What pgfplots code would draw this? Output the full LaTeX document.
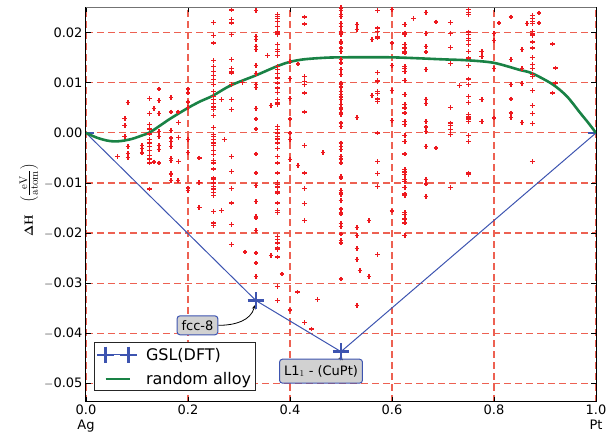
\documentclass[border=0pt]{standalone}
\usepackage[no-math]{fontspec}
\setmainfont{DejaVu Sans}
\usepackage{pgfplots}
\pgfplotsset{compat=1.18}
\definecolor{gridred}{rgb}{0.93,0.38,0.32}
\definecolor{ptred}{rgb}{0.93,0.1,0.12}
\definecolor{hullblue}{rgb}{0.24,0.33,0.69}
\definecolor{alloygreen}{rgb}{0.1,0.51,0.27}
\definecolor{boxgray}{rgb}{0.82,0.82,0.82}
\newcommand\tk{\fontsize{13bp}{15bp}\selectfont}
\newcommand\mn{$-$}
\pgfplotsset{
  hullleg/.style={legend image code/.code={\draw[##1, mark indices={1,2}] plot coordinates {(0bp,0bp) (23bp,0bp)};}},
  lineleg/.style={legend image code/.code={\draw[##1] (0bp,0bp) -- (24bp,0bp);}},
}
\begin{document}
\begin{tikzpicture}
\begin{axis}[
  scale only axis, width=510bp, height=394.4bp,
  xmin=0, xmax=1, ymin=-53.7, ymax=25.1,
  xtick={0,0.2,0.4,0.6,0.8,1},
  xticklabels={{0.0\\Ag},{0.2},{0.4},{0.6},{0.8},{1.0\\Pt}},
  xticklabel style={align=center, font=\tk},
  ytick={-50,-40,-30,-20,-10,0,10,20},
  yticklabels={\mn0.05,\mn0.04,\mn0.03,\mn0.02,\mn0.01,0.00,0.01,0.02},
  yticklabel style={font=\tk},
  tick align=inside, major tick length=5bp,
  tick style={black, line width=0.8bp},
  grid=major,
  major grid style={draw=gridred, dash pattern=on 7bp off 4bp, line width=1.1bp},
  axis line style={black, line width=1bp},
  ylabel={$\mathbf{\Delta H}$\quad{\fontsize{15bp}{17bp}\selectfont$\left(\frac{\mathrm{eV}}{\mathrm{atom}}\right)$}},
  ylabel style={at={(axis description cs:-0.1118,0.511)}, anchor=center, font=\fontsize{12.5bp}{14bp}\selectfont},
  legend style={at={(0.0157,0.151)}, anchor=north west, draw=black!85, line width=0.8bp,
    fill=white, font=\fontsize{16bp}{19bp}\selectfont, inner xsep=3bp, inner ysep=4bp,
    nodes={inner sep=1bp}, row sep=8bp, column sep=8bp},
  legend cell align=left,
]
\addplot[only marks, mark=+, mark size=2.3bp, color=ptred, mark options={draw=ptred, line width=1.5bp}, forget plot] coordinates {
(0.062,-4.7)
(0.076,2.9) (0.076,1.5) (0.076,-0.7)
(0.082,6.1) (0.082,-2.7) (0.082,-4.1) (0.082,-4.9)
(0.110,-2.5) (0.110,-3.1) (0.110,-4.0)
(0.125,6.9) (0.125,3.9) (0.125,1.7) (0.125,0.8) (0.125,-0.2) (0.125,-1.3) (0.125,-2.0) (0.125,-2.7) (0.125,-3.5) (0.125,-4.5) (0.125,-5.2) (0.125,-6.0) (0.125,-11.2)
(0.133,4.9) (0.133,-5.8)
(0.143,8.8) (0.143,6.5) (0.143,3.9) (0.143,0.3) (0.143,-0.7) (0.143,-2.5) (0.143,-3.3) (0.143,-6.0)
(0.167,7.1) (0.167,4.2) (0.167,0.5) (0.167,-1.0) (0.167,-1.7) (0.167,-2.7) (0.167,-5.1) (0.167,-5.5) (0.167,-8.1) (0.167,-8.3) (0.167,-9.5)
(0.180,4.2) (0.180,-9.5) (0.181,2.1) (0.181,-0.9) (0.181,-5.7)
(0.2,8.8) (0.2,8.0) (0.2,6.2) (0.2,5.1) (0.2,-1.3) (0.2,-3.9) (0.2,-11.0) (0.2,-11.5)
(0.222,-5.0) (0.222,-9.9) (0.222,-14.9)
(0.25,22.1) (0.25,19.5) (0.25,18.0) (0.25,14.5) (0.25,13.3) (0.25,12.3) (0.25,11.5) (0.25,10.7) (0.25,9.7) (0.25,8.3) (0.25,7.3) (0.25,6.7) (0.25,5.9) (0.25,5.2) (0.25,4.7) (0.25,3.5) (0.25,1.1) (0.25,-0.3) (0.25,-0.7) (0.25,-1.3) (0.25,-2.0) (0.25,-2.5) (0.25,-3.5) (0.25,-4.3) (0.25,-5.5) (0.25,-6.0) (0.25,-7.2) (0.25,-9.0) (0.25,-9.3) (0.25,-10.0) (0.25,-10.7) (0.25,-11.2) (0.25,-11.9) (0.25,-12.5) (0.25,-15.7) (0.25,-18.0) (0.25,-18.5)
(0.266,6.7) (0.272,-1.3) (0.266,-15.5)
(0.2857,24.6) (0.2857,22.7) (0.2857,22.0) (0.2857,19.7) (0.2857,14.7) (0.2857,12.9) (0.2857,12.3) (0.2857,12.0) (0.2857,9.7) (0.2857,6.7) (0.2857,4.7) (0.2857,-4.7) (0.2857,-7.7) (0.2857,-11.1) (0.2857,-14.0) (0.2857,-18.3) (0.2857,-22.3)
(0.307,10.1) (0.312,-23.8)
(0.3333,24.5) (0.3333,19.3) (0.3333,18.7) (0.3333,17.3) (0.3333,16.7) (0.3333,13.5) (0.3333,11.9) (0.3333,9.7) (0.3333,9.1) (0.3333,4.9) (0.3333,2.8) (0.3333,0.8) (0.3333,-4.2) (0.3333,-8.0) (0.3333,-10.5) (0.3333,-13.7) (0.3333,-16.7) (0.3333,-17.0) (0.3333,-19.5) (0.3333,-24.0) (0.3333,-26.0) (0.3333,-28.7)
(0.356,15.5) (0.363,5.5) (0.363,-24.5)
(0.375,23.7) (0.375,23.3) (0.375,22.9) (0.375,22.3) (0.375,21.3) (0.375,20.3) (0.375,20.0) (0.375,19.7) (0.375,17.7) (0.375,16.7) (0.375,16.3) (0.375,15.5) (0.375,13.3) (0.375,12.7) (0.375,11.9) (0.375,11.0) (0.375,10.0) (0.375,9.0) (0.375,8.1) (0.375,6.7) (0.375,6.0) (0.375,5.7) (0.375,1.3) (0.375,0.7) (0.375,0.0) (0.375,-0.7) (0.375,-1.2) (0.375,-2.0) (0.375,-3.1) (0.375,-4.7) (0.375,-6.0) (0.375,-8.0) (0.375,-9.9) (0.375,-10.3) (0.375,-10.8) (0.375,-11.7) (0.375,-12.0) (0.375,-14.0) (0.375,-15.5) (0.375,-15.9) (0.375,-20.7) (0.375,-21.3) (0.375,-22.0) (0.375,-23.0) (0.375,-23.3) (0.375,-24.8) (0.375,-30.7) (0.375,-33.5)
(0.384,-28.2)
(0.4,14.3) (0.4,10.9) (0.4,6.9) (0.4,2.8) (0.4,0.0) (0.4,-1.3) (0.4,-5.3) (0.4,-35.4)
(0.415,-31.8) (0.416,13.8) (0.416,-6.5)
(0.4286,23.2) (0.4286,21.8) (0.4286,11.3) (0.4286,10.3) (0.4286,9.7) (0.4286,8.0) (0.4286,4.2) (0.4286,-2.5) (0.4286,-8.0) (0.4286,-11.1) (0.4286,-14.1) (0.4286,-17.5) (0.4286,-37.9)
(0.442,-39.2) (0.454,-33.3) (0.465,-3.9)
(0.5,25.0) (0.5,24.5) (0.5,23.7) (0.5,23.3) (0.5,21.9) (0.5,21.3) (0.5,20.3) (0.5,20.0) (0.5,19.7) (0.5,18.3) (0.5,18.0) (0.5,17.0) (0.5,16.3) (0.5,14.7) (0.5,14.0) (0.5,12.7) (0.5,11.7) (0.5,10.0) (0.5,9.7) (0.5,9.2) (0.5,8.3) (0.5,7.7) (0.5,7.2) (0.5,6.7) (0.5,5.7) (0.5,5.0) (0.5,4.7) (0.5,4.0) (0.5,3.7) (0.5,2.0) (0.5,1.3) (0.5,-2.0) (0.5,-2.7) (0.5,-3.3) (0.5,-4.7) (0.5,-5.2) (0.5,-6.0) (0.5,-8.7) (0.5,-9.0) (0.5,-11.5) (0.5,-12.0) (0.5,-12.3) (0.5,-13.5) (0.5,-15.2) (0.5,-15.9) (0.5,-16.2) (0.5,-18.1) (0.5,-18.7) (0.5,-20.2) (0.5,-21.5) (0.5,-22.0) (0.5,-29.2)
(0.531,21.7) (0.531,20.7) (0.531,3.1) (0.531,-18.9) (0.531,-20.5) (0.531,-23.1) (0.531,-25.3) (0.531,-34.5)
(0.537,-27.5) (0.555,-17.5) (0.555,-28.7) (0.561,18.7) (0.561,7.5)
(0.5714,24.5) (0.5714,21.0) (0.5714,20.3) (0.5714,19.3) (0.5714,19.0) (0.5714,12.1) (0.5714,10.5) (0.5714,10.3) (0.5714,8.3) (0.5714,7.9) (0.5714,6.8) (0.5714,6.3) (0.5714,0.0) (0.5714,-5.7) (0.5714,-8.1) (0.5714,-10.7) (0.5714,-24.3)
(0.6,24.7) (0.6,18.0) (0.6,13.5) (0.6,8.5) (0.6,2.5) (0.6,-15.6)
(0.625,21.7) (0.625,20.0) (0.625,19.7) (0.625,17.7) (0.625,17.0) (0.625,16.3) (0.625,16.0) (0.625,13.3) (0.625,12.9) (0.625,12.3) (0.625,10.5) (0.625,7.7) (0.625,5.7) (0.625,5.0) (0.625,4.0) (0.625,2.3) (0.625,1.7) (0.625,-0.5) (0.625,-1.7) (0.625,-4.2) (0.625,-7.3) (0.625,-7.8) (0.625,-8.3) (0.625,-9.3) (0.625,-9.7) (0.625,-10.9) (0.625,-12.2) (0.625,-12.5) (0.625,-15.9) (0.625,-16.3) (0.625,-17.2) (0.625,-18.0) (0.625,-20.5)
(0.642,22.9)
(0.6667,24.1) (0.6667,19.9) (0.6667,17.3) (0.6667,16.2) (0.6667,12.7) (0.6667,6.7) (0.6667,5.9) (0.6667,2.3) (0.6667,1.2) (0.6667,0.3) (0.6667,-2.7) (0.6667,-9.3) (0.6667,-10.2) (0.6667,-12.7)
(0.686,22.2) (0.686,-3.0)
(0.7143,22.1) (0.7143,19.9) (0.7143,17.1) (0.7143,13.9) (0.7143,5.1) (0.7143,2.0) (0.7143,1.5) (0.7143,0.7) (0.7143,-0.3) (0.7143,-10.9)
(0.732,9.5)
(0.75,24.7) (0.75,24.1) (0.75,23.7) (0.75,20.2) (0.75,19.7) (0.75,18.9) (0.75,18.5) (0.75,17.7) (0.75,16.3) (0.75,15.0) (0.75,13.5) (0.75,10.8) (0.75,9.7) (0.75,7.3) (0.75,6.1) (0.75,3.7) (0.75,3.2) (0.75,2.8) (0.75,2.3) (0.75,-0.5) (0.75,-1.7) (0.75,-8.0) (0.75,-8.3)
(0.776,16.3) (0.776,15.3) (0.776,6.7) (0.776,2.3)
(0.8,19.9) (0.8,18.5) (0.8,12.9) (0.8,3.0)
(0.81,22.0)
(0.8333,23.2) (0.8333,14.7) (0.8333,9.7) (0.8333,6.8) (0.8333,4.0) (0.8333,3.1)
(0.855,16.7) (0.855,12.9) (0.855,9.9) (0.855,2.1)
(0.865,21.9)
(0.875,23.5) (0.875,22.9) (0.875,22.3) (0.875,21.9) (0.875,20.3) (0.875,19.8) (0.875,19.5) (0.875,18.2) (0.875,17.0) (0.875,15.1) (0.875,13.7) (0.875,12.9) (0.875,11.7) (0.875,11.3) (0.875,8.5) (0.875,5.5) (0.875,3.9) (0.875,1.9) (0.875,-5.7)
(0.888,24.0) (0.888,22.0)
(0.915,17.8) (0.915,8.0)
(0.921,13.0) (0.921,10.0)
};
\addplot[hullblue, line width=2.5bp, forget plot] coordinates {(0,0) (0.0163,0)};
\addplot[hullblue, line width=2.5bp, forget plot] coordinates {(0.9837,0) (1,0)};
\addplot[hullblue, line width=1bp, mark=+, mark size=8.3bp, mark options={line width=2.5bp}, hullleg, mark indices={2,3}]
  coordinates {(0,0) (0.3333,-33.5) (0.5,-43.7) (1,0)};
\addlegendentry{GSL(DFT)}
\addplot[alloygreen, line width=2.6bp, smooth, tension=0.5, lineleg]
  coordinates {(0,0) (0.02,-0.9) (0.04,-1.5) (0.055,-1.7) (0.07,-1.6) (0.09,-1.2) (0.11,-0.5) (0.125,0.1) (0.15,1.8) (0.166,2.9) (0.2,5.0) (0.224,6.3) (0.248,7.4) (0.284,9.5) (0.333,11.5) (0.374,13.3) (0.4,14.2) (0.427,14.7) (0.465,15.0) (0.5,15.1) (0.6,15.1) (0.7,14.7) (0.75,14.5) (0.8,14.0) (0.85,12.6) (0.875,11.9) (0.915,9.7) (0.943,7.3) (0.969,4.0) (0.985,2.0) (1,0)};
\addlegendentry{random alloy}
\draw[black!55, line width=1.2bp] (rel axis cs:0,1) -- (rel axis cs:1,1);
\node[draw=hullblue, fill=boxgray, rounded corners=3bp, inner xsep=4.5bp, inner ysep=0bp, minimum height=19bp, line width=1bp, font=\tk] (fcc) at (axis cs:0.2186,-38.44) {fcc-8};
\draw[->, >=stealth, line width=0.8bp] (fcc.east) to[out=0, in=-105] (axis cs:0.3312,-34.4);
\node[draw=hullblue, fill=boxgray, rounded corners=3bp, inner xsep=4.5bp, inner ysep=0bp, minimum height=24bp, line width=1bp, font=\tk] (l11) at (axis cs:0.4608,-47.6) {L1$_1$ - (CuPt)};
\draw[->, >=stealth, line width=0.8bp] (axis cs:0.4985,-45.4) -- (axis cs:0.5015,-44.5);
\end{axis}
\pgfresetboundingbox
\path ([shift={(-86bp,-35.3bp)}]current axis.south west) rectangle ([shift={(16bp,7.3bp)}]current axis.north east);
\end{tikzpicture}
\end{document}
